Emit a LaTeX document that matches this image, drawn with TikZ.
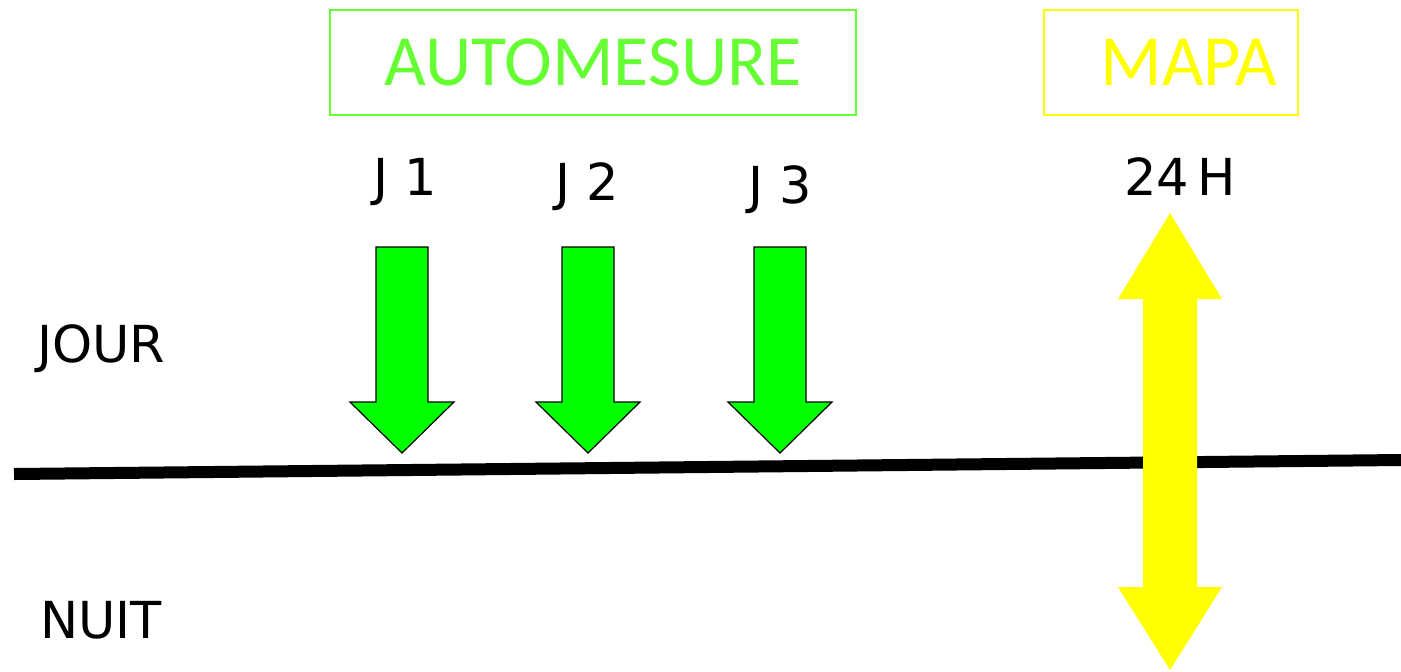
\documentclass[tikz,border=0pt]{standalone}
\usepackage{fontspec}
\setmainfont{Carlito}
\newfontfamily\comicfont{DejaVu Sans}
\usetikzlibrary{positioning}
\definecolor{autogreen}{HTML}{66FF33}
\definecolor{arrowgreen}{HTML}{00FF00}
\definecolor{mapayellow}{HTML}{FFFF00}
\tikzstyle{titlebox} = [draw, rectangle, line width=1.2pt, inner sep=0pt, font=\fontsize{36}{40}\selectfont]
\tikzstyle{daytext} = [anchor=base west, inner sep=0pt, font=\comicfont\fontsize{25.5}{28}\selectfont]
\tikzstyle{greenarrow} = [fill=arrowgreen, draw=black, line width=0.6pt, line join=miter]

% block arrow pointing down, #1 = centre x, #2 = name
\newcommand{\downblock}[2]{%
  \draw [greenarrow] (#1-26,247) -- (#1+26,247) -- (#1+26,402) -- (#1+52,402)
    -- (#1,453) coordinate (#2) -- (#1-52,402) -- (#1-26,402) -- cycle;}

\begin{document}
\begin{tikzpicture}[x=0.5pt, y=-0.5pt]

\useasboundingbox (0,0) rectangle (1401,671);

% titles
\node [titlebox, draw=autogreen, text=autogreen, minimum width=263pt, minimum height=52.5pt] (automesure) at (593,62.5) {\raisebox{-1pt}{AUTOMESURE}};
\node [titlebox, draw=mapayellow, text=mapayellow, minimum width=127pt, minimum height=52.5pt] (mapa) at (1171,62.5) {\hspace*{18pt}\raisebox{-1pt}{MAPA}};

% day labels
\node [daytext] (j1) at (373,195) {J 1};
\node [daytext] (j2) at (555,200) {J 2};
\node [daytext] (j3) at (748,203) {J 3};
\node [daytext] (h24) at (1124,195) {24\,H};
\node [daytext] (jour) at (37,362) {JOUR};
\node [daytext] (nuit) at (40,638) {NUIT};

% day / night line
\coordinate (lineleft) at (14,474);
\coordinate (lineright) at (1401,460);
\draw [line width=6pt] (lineleft) -- (lineright);

% measurements
\downblock{402}{tip1}
\downblock{588}{tip2}
\downblock{780}{tip3}

\fill [mapayellow] (1170,213) -- (1222,299) -- (1197,299) -- (1197,587) -- (1222,587)
  -- (1170,670) -- (1118,587) -- (1143,587) -- (1143,299) -- (1118,299) -- cycle;

\end{tikzpicture}
\end{document}
